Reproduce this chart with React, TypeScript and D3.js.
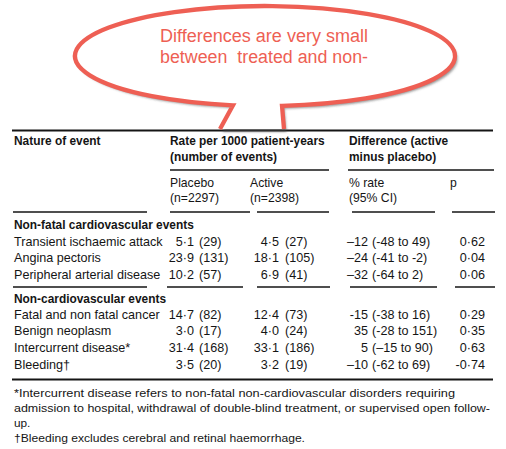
import React from "react";
import * as d3 from "d3";

// ---- Data ----
const group1Title = "Non-fatal cardiovascular events";
const group2Title = "Non-cardiovascular events";
const group1Events = ["Transient ischaemic attack", "Angina pectoris", "Peripheral arterial disease"];
const group2Events = ["Fatal and non fatal cancer", "Benign neoplasm", "Intercurrent disease*", "Bleeding\u2020"];
const placeboRate = ["5\u00b71", "23\u00b79", "10\u00b72", "14\u00b77", "3\u00b70", "31\u00b74", "3\u00b75"];
const placeboCount = [29, 131, 57, 82, 17, 168, 20];
const activeRate = ["4\u00b75", "18\u00b71", "6\u00b79", "12\u00b74", "4\u00b70", "33\u00b71", "3\u00b72"];
const activeCount = [27, 105, 41, 73, 24, 186, 19];
const diffEstimate = ["\u201312", "\u201324", "\u201332", "-15", "35", "5", "\u201310"];
const diffCI = ["(-48 to 49)", "(-41 to -2)", "(-64 to 2)", "(-38 to 16)", "(-28 to 151)", "(\u201315 to 90)", "(-62 to 69)"];
const pValues = ["0\u00b762", "0\u00b704", "0\u00b706", "0\u00b729", "0\u00b735", "0\u00b763", "-0\u00b774"];
const headerTop = ["Nature of event", "Rate per 1000 patient-years", "(number of events)", "Difference (active", "minus placebo)"];
const subHeaders = [["Placebo", "(n=2297)"], ["Active", "(n=2398)"], ["% rate", "(95% CI)"], ["p", ""]];
const footnotes = [
  "*Intercurrent disease refers to non-fatal non-cardiovascular disorders requiring",
  "admission to hospital, withdrawal of double-blind treatment, or supervised open follow-",
  "up.",
  "\u2020Bleeding excludes cerebral and retinal haemorrhage.",
];
const bubbleLines = ["Differences are very small", "between  treated and non-"];

const W = 506;
const H = 449;
const FONT = "'Liberation Sans', Arial, Helvetica, sans-serif";
const INK = "#151515";
const RED = "#ee5f54";

export default function App() {
  // Column positions
  const xCol = d3.scaleOrdinal<string, number>()
    .domain(["event", "placebo", "active", "diff", "p"])
    .range([14, 170, 250, 349, 450]);
  // Row baselines
  const yG1 = d3.scaleLinear().domain([0, 2]).range([245.5, 279]);
  const yG2 = d3.scaleLinear().domain([0, 3]).range([318.5, 369]);
  const rowY = [0, 1, 2].map((i) => yG1(i)).concat([0, 1, 2, 3].map((i) => yG2(i)));
  const events = group1Events.concat(group2Events);
  const yFoot = d3.scaleLinear().domain([0, 3]).range([397, 441.5]);
  const footLen = [441, 476, 0, 291];

  // Bubble geometry
  const cx = 265, cy = 56, rx = 190, ry = 50;
  const ey = (x: number) => cy + ry * Math.sqrt(1 - ((x - cx) / rx) ** 2);
  const xl = 233, xr = 282;
  const tipL: [number, number] = [220, 129];
  const tipR: [number, number] = [284, 129];
  const stroke = `M${tipR[0]},${tipR[1]} L${xr},${ey(xr)} A${rx},${ry} 0 1 0 ${xl},${ey(xl)} L${tipL[0]},${tipL[1]}`;
  const fill = stroke + " Z";

  const txt = { fontFamily: FONT, fontSize: 12.6, fill: INK } as const;
  const sub = { fontFamily: FONT, fontSize: 12.2, fill: INK } as const;
  const bold = { fontFamily: FONT, fontSize: 11.9, fill: INK, fontWeight: 700 } as const;

  const rule = (x1: number, x2: number, y: number, w = 1.3) => (
    <line key={`${x1}-${y}`} x1={x1} x2={x2} y1={y} y2={y} stroke={INK} strokeWidth={w} />
  );

  return (
    <svg width={W} height={H} style={{ position: "absolute", left: 0, top: 0, background: "#fff" }}>
      <defs>
        <filter id="sh" x="-10%" y="-20%" width="120%" height="150%">
          <feDropShadow dx="2.5" dy="3" stdDeviation="1.3" floodColor="#444" floodOpacity="0.55" />
        </filter>
      </defs>
      <rect width={W} height={H} fill="#fff" />

      {/* Table rules */}
      {rule(12, 493, 130.5, 2)}
      {rule(170, 329, 170)}
      {rule(348, 494, 170)}
      {rule(13, 147, 212)}
      {rule(170, 250, 212)}
      {rule(257, 329, 212)}
      {rule(352, 435, 212)}
      {rule(452, 495, 212)}
      {rule(13, 147, 287)}
      {rule(167, 243, 287)}
      {rule(257, 330, 287)}
      {rule(350, 437, 287)}
      {rule(455, 495, 287)}
      {rule(12, 493, 379.5, 2)}

      {/* Headers */}
      <text x={xCol("event")} y={145} style={bold}>{headerTop[0]}</text>
      <text x={xCol("placebo")} y={145} style={bold}>{headerTop[1]}</text>
      <text x={xCol("placebo")} y={161} style={bold}>{headerTop[2]}</text>
      <text x={xCol("diff")} y={145} style={bold}>{headerTop[3]}</text>
      <text x={xCol("diff")} y={161} style={bold}>{headerTop[4]}</text>
      {subHeaders.map((s, i) => {
        const x = xCol(["placebo", "active", "diff", "p"][i]);
        return (
          <g key={i}>
            <text x={x} y={186.5} style={sub}>{s[0]}</text>
            <text x={x} y={201.5} style={sub}>{s[1]}</text>
          </g>
        );
      })}

      {/* Group headers */}
      <text x={xCol("event")} y={229} style={bold}>{group1Title}</text>
      <text x={xCol("event")} y={302.5} style={bold}>{group2Title}</text>

      {/* Rows */}
      {events.map((ev, i) => (
        <g key={ev}>
          <text x={xCol("event")} y={rowY[i]} style={txt}>{ev}</text>
          <text x={194} y={rowY[i]} style={txt} textAnchor="end">{placeboRate[i]}</text>
          <text x={199} y={rowY[i]} style={txt}>({placeboCount[i]})</text>
          <text x={279} y={rowY[i]} style={txt} textAnchor="end">{activeRate[i]}</text>
          <text x={285} y={rowY[i]} style={txt}>({activeCount[i]})</text>
          <text x={368} y={rowY[i]} style={txt} textAnchor="end">{diffEstimate[i]}</text>
          <text x={372} y={rowY[i]} style={txt}>{diffCI[i]}</text>
          <text x={485} y={rowY[i]} style={txt} textAnchor="end">{pValues[i]}</text>
        </g>
      ))}

      {/* Footnotes */}
      {footnotes.map((f, i) => (
        <text
          key={i}
          x={14}
          y={yFoot(i)}
          style={{ ...txt, fontSize: 11.8 }}
          {...(footLen[i] ? { textLength: footLen[i], lengthAdjust: "spacingAndGlyphs" } : {})}
        >
          {f}
        </text>
      ))}

      {/* Speech bubble */}
      <path d={fill} fill="#fff" stroke="none" filter="url(#sh)" />
      <path d={stroke} fill="none" stroke={RED} strokeWidth={4.3} strokeLinejoin="miter" />
      {bubbleLines.map((l, i) => (
        <text
          key={i}
          x={160}
          y={42 + i * 21}
          style={{ fontFamily: FONT, fontSize: 18, fill: RED, whiteSpace: "pre" }}
          textLength={208}
          lengthAdjust="spacingAndGlyphs"
        >
          {l}
        </text>
      ))}
    </svg>
  );
}
